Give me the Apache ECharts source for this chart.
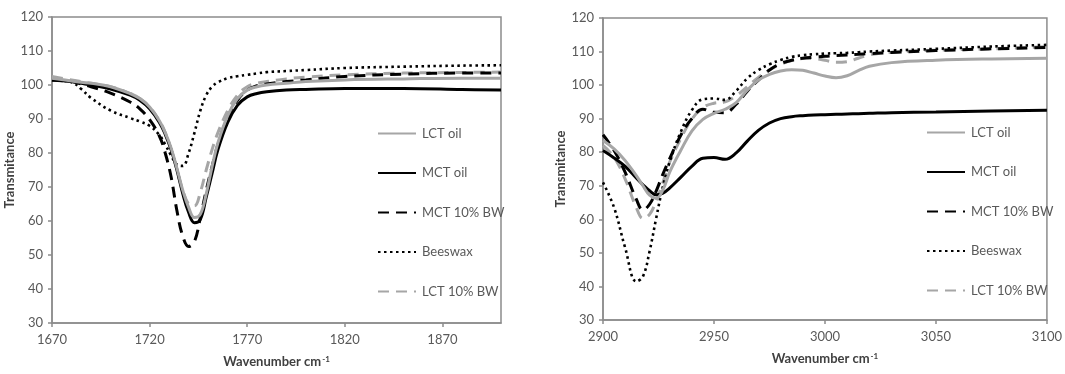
<!DOCTYPE html>
<html><head><meta charset="utf-8">
<script src="https://cdn.jsdelivr.net/npm/echarts@6/dist/echarts.min.js"></script>
<style>html,body{margin:0;padding:0;background:#fff}#c{width:1065px;height:374px}</style>
</head><body><div id="c"></div>
<script>
// ---- Data ----
const seriesNames = ['LCT oil', 'MCT oil', 'MCT 10% BW', 'Beeswax', 'LCT 10% BW'];

// Left panel: 1670-1900 cm-1
const leftX = [1670,1680,1685,1690,1700,1710,1715,1720,1725,1728,1731,1734,1737,1740,1743,1746,1749,1752,1755,1760,1765,1770,1775,1780,1790,1800,1820,1850,1880,1900];
const leftLCToil   = [102,101.2,100.8,100.5,99.5,97.5,96,93.5,89.5,86,81.5,75.5,69,64,61,62,68,76,83,91,96,98.5,99.5,100,100.5,101,101.5,101.8,102,102];
const leftMCToil   = [101.5,101,100.5,100,98.8,97,95.5,93,89,85.5,81,75,68,62.5,59.5,60.5,67,74,81,89,94,96.5,97.5,98,98.5,98.7,99,99,98.7,98.5];
const leftMCT10BW  = [101.5,101,100.3,99.5,97.6,95,93,89.8,85,80,73,63,55.5,52.5,54,61,69,76,82.5,90.5,95.5,98.5,99.8,100.3,101,101.5,102.5,103.2,103.5,103.5];
const leftBeeswax  = [101.5,100.8,98.8,96.2,92.5,90.3,89.3,88,85.3,82.5,79.3,76.6,76.2,80,86,92.5,97,99.5,100.8,102,102.6,103,103.4,103.8,104.1,104.4,105,105.4,105.7,105.8];
const leftLCT10BW  = [102.5,101.5,101,100.5,99.5,97.5,96,93.5,89.5,86,81,75,69,65,64.5,68.5,75,81,86,92.5,97,99.5,100.5,101,101.8,102.3,103,103.5,103.7,103.8];

// Right panel: 2900-3100 cm-1
const rightX = [2900,2905,2910,2915,2918,2921,2924,2927,2930,2935,2940,2945,2950,2955,2960,2965,2970,2975,2980,2985,2990,2995,3000,3005,3010,3015,3020,3030,3050,3075,3100];
const rightLCToil  = [83.5,81,77.5,73,70,67.2,66.3,68.8,74,80.5,86.3,89.8,91.6,92.8,94.8,98.5,101.5,103.2,104.2,104.6,104.4,103.6,102.7,102.2,102.8,104.3,105.6,106.7,107.4,107.8,108];
const rightMCToil  = [80.5,78.3,75.8,72.3,70.3,68.5,67.3,67.8,69.3,72.5,75.8,78.2,78.4,77.9,79.8,83.3,86.5,88.7,90,90.6,90.9,91.1,91.2,91.3,91.4,91.5,91.6,91.8,92,92.3,92.5];
const rightMCT10BW = [85.2,80.5,74,66,62.8,64.5,68.5,73.5,78,85,90,92.8,91.9,91.8,94.3,98.2,101.5,104.5,106.4,107.4,108,108.3,108.6,108.8,109,109.2,109.4,109.7,110.3,110.8,111.2];
const rightBeeswax = [71,63.5,51.5,41.5,43,50.5,60.5,69.8,77,86,92.5,95.8,96,95.6,98.3,102,104.5,106.2,107.5,108.4,108.9,109.2,109.4,109.5,109.6,109.8,110,110.3,110.8,111.5,112];
const rightLCT10BW = [82,78.5,72,63.5,60.3,61.5,65.5,71,77,84,89.8,93.3,94.6,95,96.8,99.5,102.3,104.5,106.2,107.3,107.9,107.9,107.4,106.8,107,108,109,109.8,110.4,110.8,111.5];

const yTicks = {min: 30, max: 120, interval: 10};
const leftXAxis = {min: 1670, max: 1900, interval: 50};
const rightXAxis = {min: 2900, max: 3100, interval: 50};

// ---- Styles ----
const styles = [
  {color: '#a6a6a6', type: 'solid', width: 3},
  {color: '#000000', type: 'solid', width: 3},
  {color: '#000000', type: [11, 7], width: 3},
  {color: '#000000', type: [2.5, 3.5], width: 2.6},
  {color: '#a6a6a6', type: [11, 7], width: 3}
];
const FONT = 'Lato';
const txt = '#595959';
const axisGray = '#8c8c8c';

function pairs(xs, ys){ return xs.map((x,i)=>[x, ys[i]]); }

const leftData = [leftLCToil, leftMCToil, leftMCT10BW, leftBeeswax, leftLCT10BW];
const rightData = [rightLCToil, rightMCToil, rightMCT10BW, rightBeeswax, rightLCT10BW];

function mkX(idx, cfg, showMax){
  return {
    type: 'value', gridIndex: idx, min: cfg.min, max: cfg.max, interval: cfg.interval,
    splitLine: {show: false},
    axisLine: {show: true, lineStyle: {color: axisGray, width: 1.5}},
    axisTick: {show: true, inside: false, length: 4, lineStyle: {color: axisGray, width: 1.5}},
    axisLabel: {color: txt, fontFamily: FONT, fontSize: 13, margin: 10, showMaxLabel: showMax, showMinLabel: true,
      formatter: v => String(v)},
    name: '{a|Wavenumber cm}{b|-1}',
    nameLocation: 'middle', nameGap: 32,
    nameTextStyle: {rich: {
      a: {fontFamily: FONT, fontWeight: 'bold', fontSize: 13, color: '#404040'},
      b: {fontFamily: FONT, fontWeight: 'bold', fontSize: 8, color: '#404040', verticalAlign: 'top', padding: [0,0,6,1]}
    }}
  };
}
function mkY(idx){
  return {
    type: 'value', gridIndex: idx, min: yTicks.min, max: yTicks.max, interval: yTicks.interval,
    splitLine: {show: false},
    axisLine: {show: true, lineStyle: {color: axisGray, width: 1.5}},
    axisTick: {show: true, length: 4, lineStyle: {color: axisGray, width: 1.5}},
    axisLabel: {color: txt, fontFamily: FONT, fontSize: 13, margin: 9},
    name: 'Transmitance', nameLocation: 'middle', nameGap: 31, nameRotate: 90,
    nameTextStyle: {fontFamily: FONT, fontWeight: 'bold', fontSize: 13, color: '#404040'}
  };
}

const series = [];
[leftData, rightData].forEach((set, gi) => {
  const xs = gi === 0 ? leftX : rightX;
  set.forEach((ys, si) => {
    series.push({
      name: seriesNames[si], type: 'line', xAxisIndex: gi, yAxisIndex: gi,
      data: pairs(xs, ys), showSymbol: false, symbol: 'none',
      smooth: 0.4,
      lineStyle: {color: styles[si].color, type: styles[si].type, width: styles[si].width},
      itemStyle: {color: styles[si].color},
      z: 10 - si
    });
  });
});

function mkLegend(left, top){
  return {
    data: seriesNames,
    orient: 'vertical', left: left, top: top,
    itemWidth: 38, itemHeight: 14, itemGap: 26.5, selectedMode: false,
    itemStyle: {color: 'rgba(0,0,0,0)', borderColor: 'rgba(0,0,0,0)', borderWidth: 0, opacity: 0},
    textStyle: {color: txt, fontFamily: FONT, fontSize: 13, padding: [0,0,0,1]}
  };
}

const chart = echarts.init(document.getElementById('c'), null, {renderer: 'canvas'});
chart.setOption({
  animation: false,
  backgroundColor: '#ffffff',
  grid: [
    {left: 52, top: 17, width: 449, height: 306, show: true, borderColor: axisGray, borderWidth: 1.5},
    {left: 603, top: 18, width: 444, height: 302, show: true, borderColor: axisGray, borderWidth: 1.5}
  ],
  xAxis: [mkX(0, leftXAxis, false), mkX(1, rightXAxis, true)],
  yAxis: [mkY(0), mkY(1)],
  legend: [mkLegend(372, 122), mkLegend(921, 121)],
  series: series
});
</script></body></html>
